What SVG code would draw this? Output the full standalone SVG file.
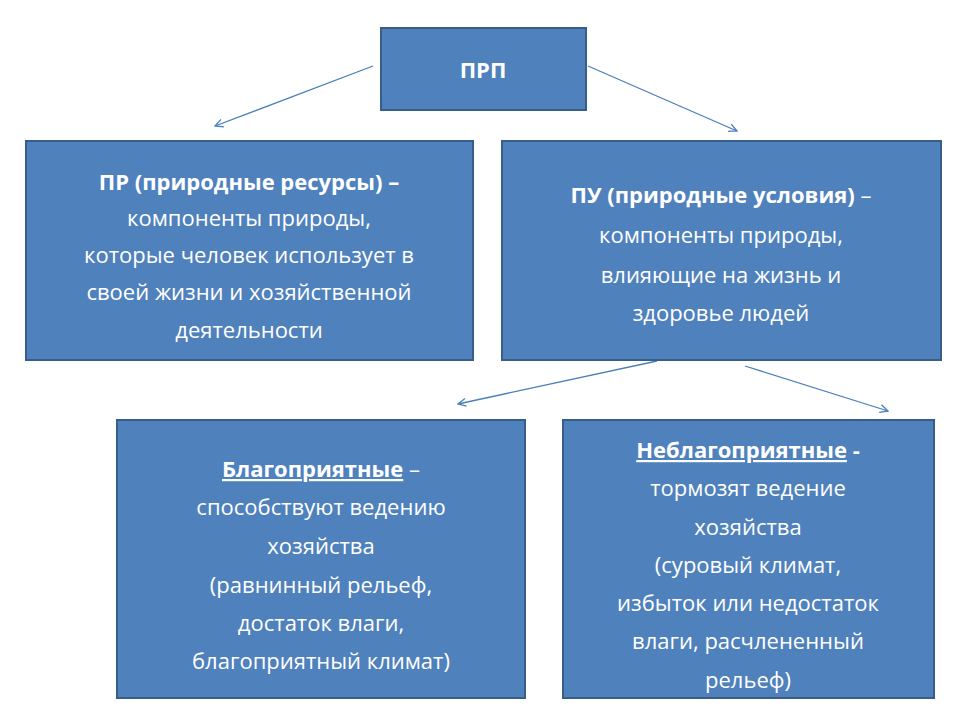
<svg xmlns="http://www.w3.org/2000/svg" width="960" height="720" viewBox="0 0 960 720">
<defs>
<style>
.box{fill:#4f81bd;stroke:#385d8a;stroke-width:2}
text{font-family:"Open Sans","Liberation Sans",sans-serif;font-size:22px;fill:#fff;text-anchor:middle}
.b{font-weight:bold}
.c{stroke:#4a7ebb;stroke-width:1.3;fill:none;marker-end:url(#a)}
</style>
<marker id="a" markerWidth="10" markerHeight="10" refX="9" refY="5" orient="auto" markerUnits="userSpaceOnUse"><path d="M1,1 L9,5 L1,9" fill="none" stroke="#4a7ebb" stroke-width="1.3"/></marker>
</defs>
<rect width="960" height="720" fill="#fff"/>
<g id="connectors">
<line class="c" x1="373" y1="66" x2="215" y2="126"/>
<line class="c" x1="588" y1="66" x2="737" y2="131"/>
<line class="c" x1="657" y1="361" x2="458" y2="404"/>
<line class="c" x1="745" y1="366" x2="888" y2="411"/>
</g>
<g id="prp"><rect class="box" x="381" y="28" width="205" height="82"/><text class="b" x="483" y="78" font-size="26">ПРП</text></g>
<g id="pr"><rect class="box" x="26" y="141" width="447" height="219"/>
<text x="249" y="190"><tspan class="b">ПР (природные ресурсы) –</tspan></text>
<text x="249" y="226">компоненты природы,</text>
<text x="249" y="263">которые  человек использует в</text>
<text x="249" y="300">своей жизни и хозяйственной</text>
<text x="249" y="338">деятельности</text></g>
<g id="pu"><rect class="box" x="502" y="141" width="439" height="219"/>
<text x="721" y="203"><tspan class="b">ПУ (природные условия)</tspan> –</text>
<text x="721" y="243">компоненты природы,</text>
<text x="721" y="283">влияющие на жизнь и</text>
<text x="721" y="321">здоровье людей</text></g>
<g id="blago"><rect class="box" x="117" y="420" width="408" height="278"/>
<text x="321" y="477"><tspan class="b" text-decoration="underline">Благоприятные</tspan> –</text>
<text x="321" y="515">способствуют ведению</text>
<text x="321" y="554">хозяйства</text>
<text x="321" y="593">(равнинный рельеф,</text>
<text x="321" y="631">достаток влаги,</text>
<text x="321" y="669">благоприятный климат)</text></g>
<g id="neblago"><rect class="box" x="563" y="420" width="371" height="278"/>
<text x="748" y="458"><tspan class="b" text-decoration="underline">Неблагоприятные</tspan><tspan class="b"> -</tspan></text>
<text x="748" y="496">тормозят ведение</text>
<text x="748" y="535">хозяйства</text>
<text x="748" y="573">(суровый климат,</text>
<text x="748" y="611">избыток или недостаток</text>
<text x="748" y="649">влаги, расчлененный</text>
<text x="748" y="688">рельеф)</text></g>
</svg>
